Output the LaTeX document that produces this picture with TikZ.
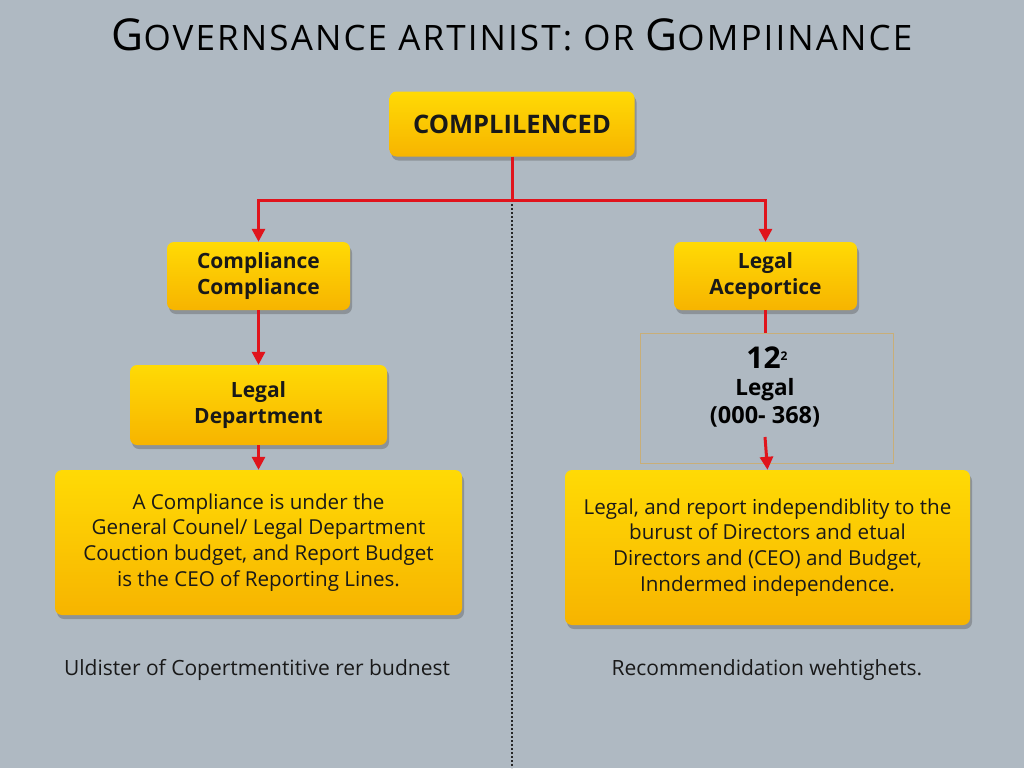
\documentclass[tikz,border=0pt]{standalone}
\usepackage{fontspec}
\setmainfont{Open Sans}
\usetikzlibrary{shadows,arrows.meta}
\definecolor{bg}{HTML}{AFB9C2}
\definecolor{ytop}{HTML}{FFDA05}
\definecolor{ybot}{HTML}{F7B400}
\definecolor{redc}{HTML}{E0141C}
\definecolor{tanc}{HTML}{C8AE78}
\tikzset{
  ybox/.style={rounded corners=7pt, top color=ytop, bottom color=ybot, draw=none,
    drop shadow={shadow xshift=2pt, shadow yshift=-4pt, opacity=0.35, fill=black!70},
    align=center, inner sep=0pt, text=black!90},
  headtxt/.style={font=\fontsize{21}{26}\selectfont\bfseries},
  bodytxt/.style={font=\fontsize{20.6}{25.8}\selectfont},
  redline/.style={draw=redc, line width=3pt},
  redarrow/.style={redline, -{Triangle[width=13pt,length=13pt]}},
}
\begin{document}
\begin{tikzpicture}[x=1pt,y=-1pt]
\fill[bg] (0,0) rectangle (1024,768);
\useasboundingbox (0,0) rectangle (1024,768);

% title
\node (title) at (512,35) {\fontsize{35}{38}\selectfont\addfontfeature{LetterSpace=6}{\fontsize{44}{38}\selectfont G}OVERNSANCE ARTINIST: OR {\fontsize{44}{38}\selectfont G}OMPIINANCE};

% dotted divider
\coordinate (branch) at (512,200);
\coordinate (divend) at (512,768);
\draw[black!85, line width=2.2pt, dash pattern=on 2pt off 2pt] (branch) -- (divend);

% boxes
\node[ybox, minimum width=245pt, minimum height=65pt, font=\fontsize{25.5}{28}\selectfont\bfseries] (top) at (512,124) {COMPLILENCED};
\node[ybox, headtxt, minimum width=183pt, minimum height=68pt] (lm) at (258.5,276) {Compliance\\Compliance};
\node[ybox, headtxt, minimum width=183pt, minimum height=68pt] (rm) at (765.5,276) {Legal\\Aceportice};
\node[ybox, headtxt, minimum width=257pt, minimum height=80pt] (ld) at (258.5,405) {Legal\\Department};
\node[ybox, bodytxt, minimum width=407pt, minimum height=145pt] (lb) at (258.5,542.5) {A Compliance is under the\\General Counel/ Legal Department\\Couction budget, and Report Budget\\is the CEO of Reporting Lines.};
\node[ybox, bodytxt, minimum width=405pt, minimum height=155pt] (rb) at (767.5,547.5) {Legal, and report independiblity to the\\burust of Directors and etual\\Directors and (CEO) and Budget,\\Inndermed independence.};

% tan frame with figures
\node[draw=tanc, line width=0.9pt, minimum width=253pt, minimum height=130pt, inner sep=0pt] (frame) at (766.5,398) {};
\node[font=\fontsize{30}{32}\selectfont\bfseries, inner sep=0pt] (num) at (767,358) {12\raisebox{8pt}{\fontsize{12}{12}\selectfont 2}};
\node[font=\fontsize{22.5}{26}\selectfont\bfseries, inner sep=0pt] (legaltxt) at (765,390) {Legal};
\node[font=\fontsize{23.5}{26}\selectfont\bfseries, inner sep=0pt] (range) at (765,417) {(000- 368)};
\coordinate (rstart) at (765,437);

% connectors
\draw[redline] (top.south) -- (branch);
\draw[redarrow] (branch) -| (lm.north);
\draw[redarrow] (branch) -| (rm.north);
\draw[redarrow] (lm.south) -- (ld.north);
\draw[redarrow] (ld.south) -- (lb.north);
\draw[redline] (rm.south) -- (rm.south |- frame.north);
\draw[redarrow] (rstart) -- (rb.north);

% bottom captions
\node[font=\fontsize{21}{24}\selectfont, text=black!90] (capl) at (257,670) {Uldister of Copertmentitive rer budnest};
\node[font=\fontsize{21}{24}\selectfont, text=black!90] (capr) at (767,670) {Recommendidation wehtighets.};
\end{tikzpicture}
\end{document}
